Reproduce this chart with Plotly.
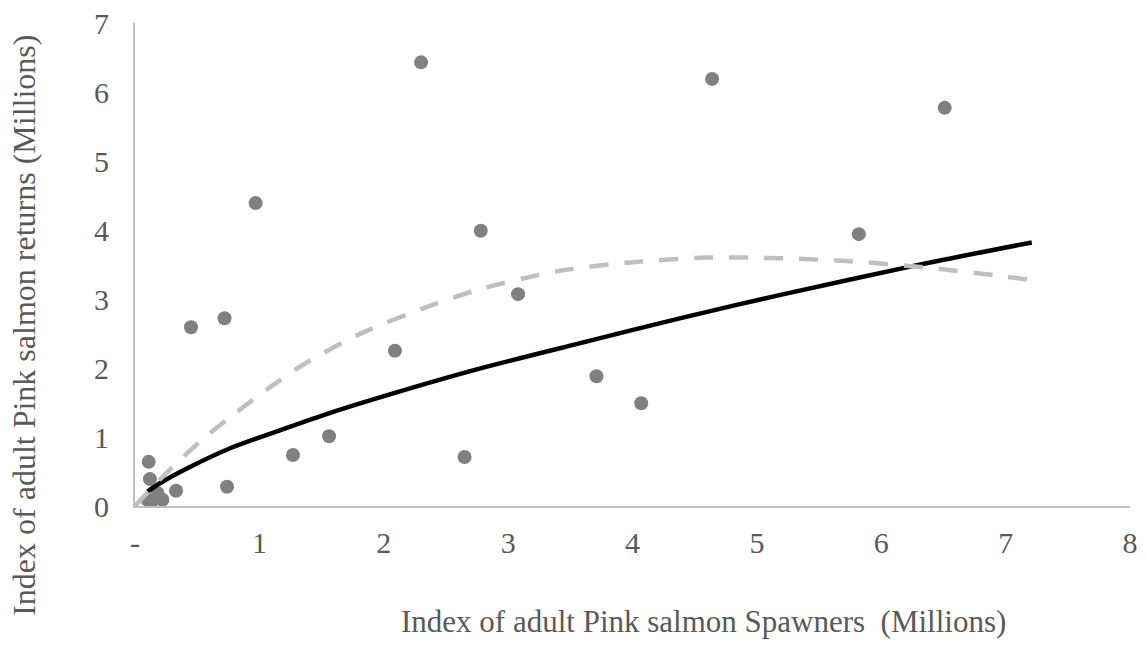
import plotly.graph_objects as go

# Observed data (millions)
spawners = [2.30, 4.64, 6.51, 0.97, 2.78, 5.82, 3.08, 0.72, 0.45, 2.09, 3.71, 4.07,
            1.56, 1.27, 2.65, 0.74, 0.11, 0.12, 0.10, 0.18, 0.22, 0.33, 0.14]
returns = [6.43, 6.19, 5.77, 4.39, 3.99, 3.94, 3.07, 2.72, 2.59, 2.25, 1.88, 1.49,
           1.01, 0.74, 0.71, 0.28, 0.64, 0.39, 0.09, 0.19, 0.09, 0.22, 0.08]

# Power trend line
power_x = [0.10, 0.20, 0.37, 0.77, 1.17, 1.57, 2.11, 2.77, 3.58, 4.38, 5.19, 6.26, 7.21]
power_y = [0.21, 0.33, 0.50, 0.84, 1.10, 1.35, 1.65, 1.99, 2.36, 2.72, 3.06, 3.48, 3.82]

# Dashed trend line
ricker_x = [0.00, 0.27, 0.54, 0.81, 1.07, 1.38, 1.84, 2.37, 2.77, 3.39, 3.98, 4.60, 5.19, 5.72, 6.34, 6.93, 7.18]
ricker_y = [0.00, 0.51, 0.96, 1.35, 1.70, 2.08, 2.52, 2.90, 3.14, 3.40, 3.53, 3.60, 3.59, 3.55, 3.46, 3.34, 3.28]

x_tickvals = [0, 1, 2, 3, 4, 5, 6, 7, 8]
x_ticktext = ["-", "1", "2", "3", "4", "5", "6", "7", "8"]
y_tickvals = [0, 1, 2, 3, 4, 5, 6, 7]

FONT = "Liberation Serif, Times New Roman, serif"
TXT = "#595959"
FS = 30

fig = go.Figure()
fig.add_trace(go.Scatter(x=spawners, y=returns, mode="markers",
                         marker=dict(size=14, color="#808080"), showlegend=False,
                         cliponaxis=False))
fig.add_trace(go.Scatter(x=power_x, y=power_y, mode="lines",
                         line=dict(color="#000000", width=4.5, shape="spline", smoothing=0.8),
                         showlegend=False))
fig.add_trace(go.Scatter(x=ricker_x, y=ricker_y, mode="lines",
                         line=dict(color="#BFBFBF", width=4.5, dash="19px,16px", shape="spline",
                                   smoothing=0.8),
                         showlegend=False))

fig.update_layout(
    width=1147, height=665,
    margin=dict(l=127, r=25, t=15, b=167, autoexpand=False),
    paper_bgcolor="white", plot_bgcolor="white",
    font=dict(family=FONT, size=FS, color=TXT),
    xaxis=dict(range=[0, 8], tickvals=x_tickvals, ticktext=x_ticktext, automargin=False,
               showgrid=False, zeroline=False, showline=True, linecolor="#BFBFBF",
               linewidth=2, ticks="", ticklabelstandoff=9, ticklabeloverflow="allow",
               tickfont=dict(family=FONT, size=FS, color=TXT)),
    yaxis=dict(range=[0, 7], tickvals=y_tickvals, automargin=False,
               showgrid=False, zeroline=False, showline=True, linecolor="#BFBFBF",
               linewidth=2, ticks="", ticklabelstandoff=18, ticklabeloverflow="allow",
               tickfont=dict(family=FONT, size=FS, color=TXT)),
    annotations=[
        dict(text="Index of adult Pink salmon Spawners  (Millions)", xref="paper", yref="paper",
             x=0.571, y=-0.240, xanchor="center", yanchor="middle", showarrow=False,
             font=dict(family=FONT, size=31, color=TXT)),
        dict(text="Index of adult Pink salmon returns (Millions)", xref="paper", yref="paper",
             x=-0.1116, y=0.375, xanchor="center", yanchor="middle", textangle=-90,
             showarrow=False, font=dict(family=FONT, size=32, color=TXT)),
    ],
)

fig.write_html("out.html")
